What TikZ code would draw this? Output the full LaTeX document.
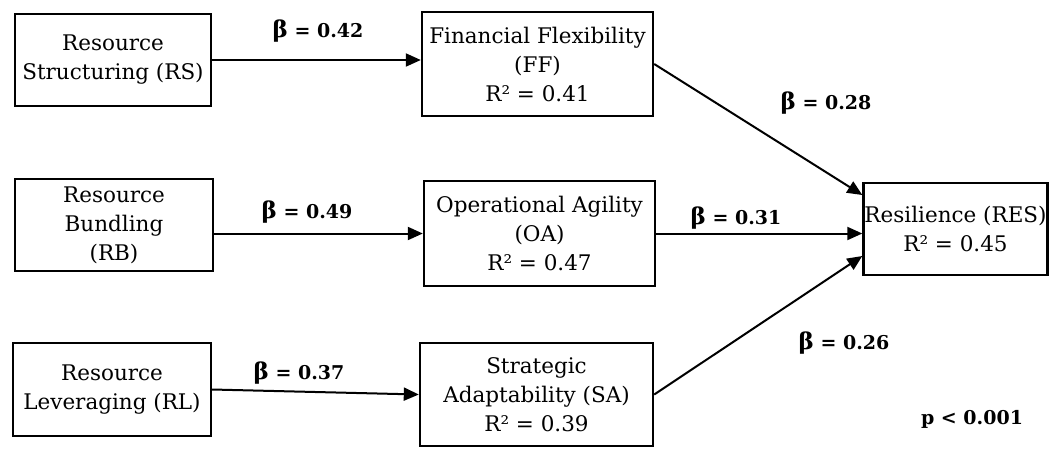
\documentclass[tikz,border=0pt]{standalone}
\usepackage{fontspec}
\setmainfont{DejaVu Serif}
\usetikzlibrary{arrows.meta}
\newcommand{\bcoef}{{\fontsize{23}{22}\selectfont β}}
\begin{document}
\begin{tikzpicture}[x=1pt,y=-1pt,
    box/.style={draw,line width=2.4pt,align=center,inner sep=0pt,
      font=\fontsize{21.5}{29}\selectfont},
    link/.style={line width=2pt,-{Triangle[length=15pt,width=13pt]}},
    coef/.style={font=\fontsize{19}{22}\selectfont\bfseries}]
    \useasboundingbox (0,0) rectangle (1049,448);

    % left column
    \node[box,minimum width=196pt,minimum height=92pt] (RS) at (113,60) {Resource\\Structuring (RS)};
    \node[box,minimum width=198pt,minimum height=92pt] (RB) at (114,225) {Resource\\Bundling\\(RB)};
    \node[box,minimum width=198pt,minimum height=93pt] (RL) at (112,389.5) {Resource\\Leveraging (RL)};

    % middle column
    \node[box,minimum width=231pt,minimum height=104pt] (FF) at (537.5,64) {Financial Flexibility\\(FF)\\R² = 0.41};
    \node[box,minimum width=231pt,minimum height=105pt] (OA) at (539.5,233.5) {Operational Agility\\(OA)\\R² = 0.47};
    \node[box,minimum width=233pt,minimum height=103pt] (SA) at (536.5,394.5) {Strategic\\Adaptability (SA)\\R² = 0.39};

    % outcome
    \node[box,minimum width=184pt,minimum height=92pt] (RES) at (955.5,229) {Resilience (RES)\\R² = 0.45};

    \draw[link] (RS.east) -- (RS.east -| FF.west);
    \draw[link] (RB.east |- OA.west) -- (OA.west);
    \draw[link] (RL.east) -- (SA.west);
    \draw[link] (FF.east) -- ([yshift=34pt]RES.west);
    \draw[link] (OA.east) -- (OA.east -| RES.west);
    \draw[link] (SA.east) -- ([yshift=-27pt]RES.west);

    \node[coef] (b1) at (318,31) {\bcoef{} = 0.42};
    \node[coef] (b2) at (307,212) {\bcoef{} = 0.49};
    \node[coef] (b3) at (299,373) {\bcoef{} = 0.37};
    \node[coef] (b4) at (826,103) {\bcoef{} = 0.28};
    \node[coef] (b5) at (736,218) {\bcoef{} = 0.31};
    \node[coef] (b6) at (844,343) {\bcoef{} = 0.26};
    \node[coef] (pv) at (972,419) {p < 0.001};
\end{tikzpicture}
\end{document}
